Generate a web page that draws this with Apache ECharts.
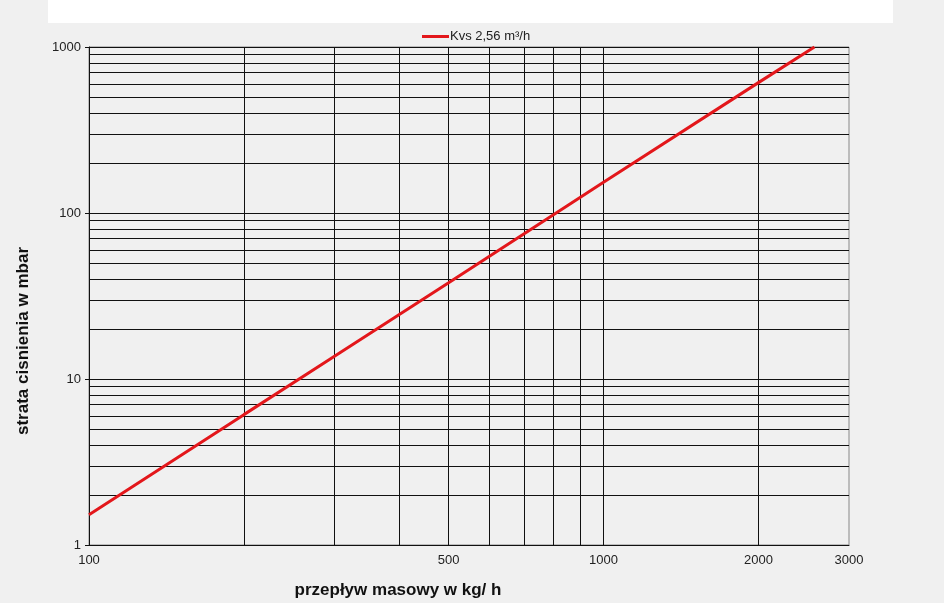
<!DOCTYPE html>
<html>
<head>
<meta charset="utf-8">
<script src="https://cdn.jsdelivr.net/npm/echarts@6/dist/echarts.min.js"></script>
<style>
html,body{margin:0;padding:0;background:#f0f0f0;}
#chart{width:944px;height:603px;}
</style>
</head>
<body>
<div id="chart"></div>
<script>
// Data
var seriesName = 'Kvs 2,56 m³/h';
var flowValues = [100, 200, 300, 500, 1000, 2000, 2570];      // kg/h
var lossValues = [1.52, 6.1, 13.7, 38, 153, 610, 1000];       // mbar
var xTickLabels = [100, 500, 1000, 2000, 3000];
var xGridValues = [200, 300, 400, 500, 600, 700, 800, 900, 1000, 2000];
var yGridValues = [2, 3, 4, 5, 6, 7, 8, 9, 20, 30, 40, 50, 60, 70, 80, 90, 200, 300, 400, 500, 600, 700, 800, 900];
var xTitle = 'przepływ masowy w kg/ h';
var yTitle = 'strata cisnienia w mbar';

var FONT = 'Liberation Sans, Arial, sans-serif';
var chart = echarts.init(document.getElementById('chart'));

var lineData = flowValues.map(function (v, i) { return [v, lossValues[i]]; });

var gridStyle = { color: '#111', width: 1, type: 'solid' };

var option = {
  backgroundColor: '#f0f0f0',
  animation: false,
  grid: { left: 89, right: 95, top: 47, bottom: 58, show: true, borderColor: '#888', borderWidth: 1, backgroundColor: 'transparent' },
  legend: {
    top: 25, left: 417,
    itemWidth: 27, itemHeight: 3, itemGap: 2,
    icon: 'rect',
    textStyle: { fontFamily: FONT, fontSize: 13, color: '#222', padding: [0, 0, 0, -4] },
    data: [seriesName]
  },
  xAxis: {
    type: 'log', logBase: 10, min: 100, max: 3000,
    axisLine: { show: true, onZero: false, lineStyle: { color: '#111', width: 1 } },
    axisTick: { show: false },
    axisLabel: { show: false },
    splitLine: { show: false },
    minorSplitLine: { show: false }
  },
  yAxis: {
    type: 'log', logBase: 10, min: 1, max: 1000,
    axisLine: { show: true, lineStyle: { color: '#111', width: 1 } },
    axisTick: { show: true, length: 4, lineStyle: { color: '#111' } },
    axisLabel: { fontFamily: FONT, fontSize: 13, color: '#222', margin: 8, formatter: function (v) { return String(v); } },
    splitLine: { show: true, lineStyle: gridStyle }
  },
  graphic: [
    { type: 'rect', left: 48, top: 0, shape: { width: 845, height: 23 }, style: { fill: '#ffffff' }, silent: true },
    { type: 'text', x: 398, y: 590, style: { text: xTitle, font: 'bold 17px ' + FONT, fill: '#111', align: 'center', verticalAlign: 'middle' } },
    { type: 'text', x: 23, y: 341, rotation: Math.PI / 2, style: { text: yTitle, font: 'bold 17px ' + FONT, fill: '#111', align: 'center', verticalAlign: 'middle' } }
  ],
  series: [
    {
      name: 'xgrid', type: 'line', data: [], silent: true,
      markLine: {
        silent: true, symbol: 'none', animation: false,
        lineStyle: gridStyle,
        label: { show: false },
        data: xGridValues.map(function (v) { return { xAxis: v }; })
      }
    },
    {
      name: 'ygrid', type: 'line', data: [], silent: true,
      markLine: {
        silent: true, symbol: 'none', animation: false,
        lineStyle: gridStyle,
        label: { show: false },
        data: yGridValues.map(function (v) { return { yAxis: v }; })
      }
    },
    {
      name: 'xlabels', type: 'line', data: [], silent: true,
      markLine: {
        silent: true, symbol: 'none', animation: false,
        lineStyle: { color: 'rgba(0,0,0,0)', width: 0 },
        label: { show: true, position: 'start', distance: 9, formatter: function (p) { return String(p.value); }, fontFamily: FONT, fontSize: 13, color: '#222' },
        data: xTickLabels.map(function (v) { return { xAxis: v }; })
      }
    },
    {
      name: seriesName, type: 'line', data: lineData,
      showSymbol: false, symbol: 'none', smooth: false,
      lineStyle: { color: '#e3171b', width: 3 },
      itemStyle: { color: '#e3171b' },
      z: 5
    }
  ]
};
chart.setOption(option);
</script>
</body>
</html>
